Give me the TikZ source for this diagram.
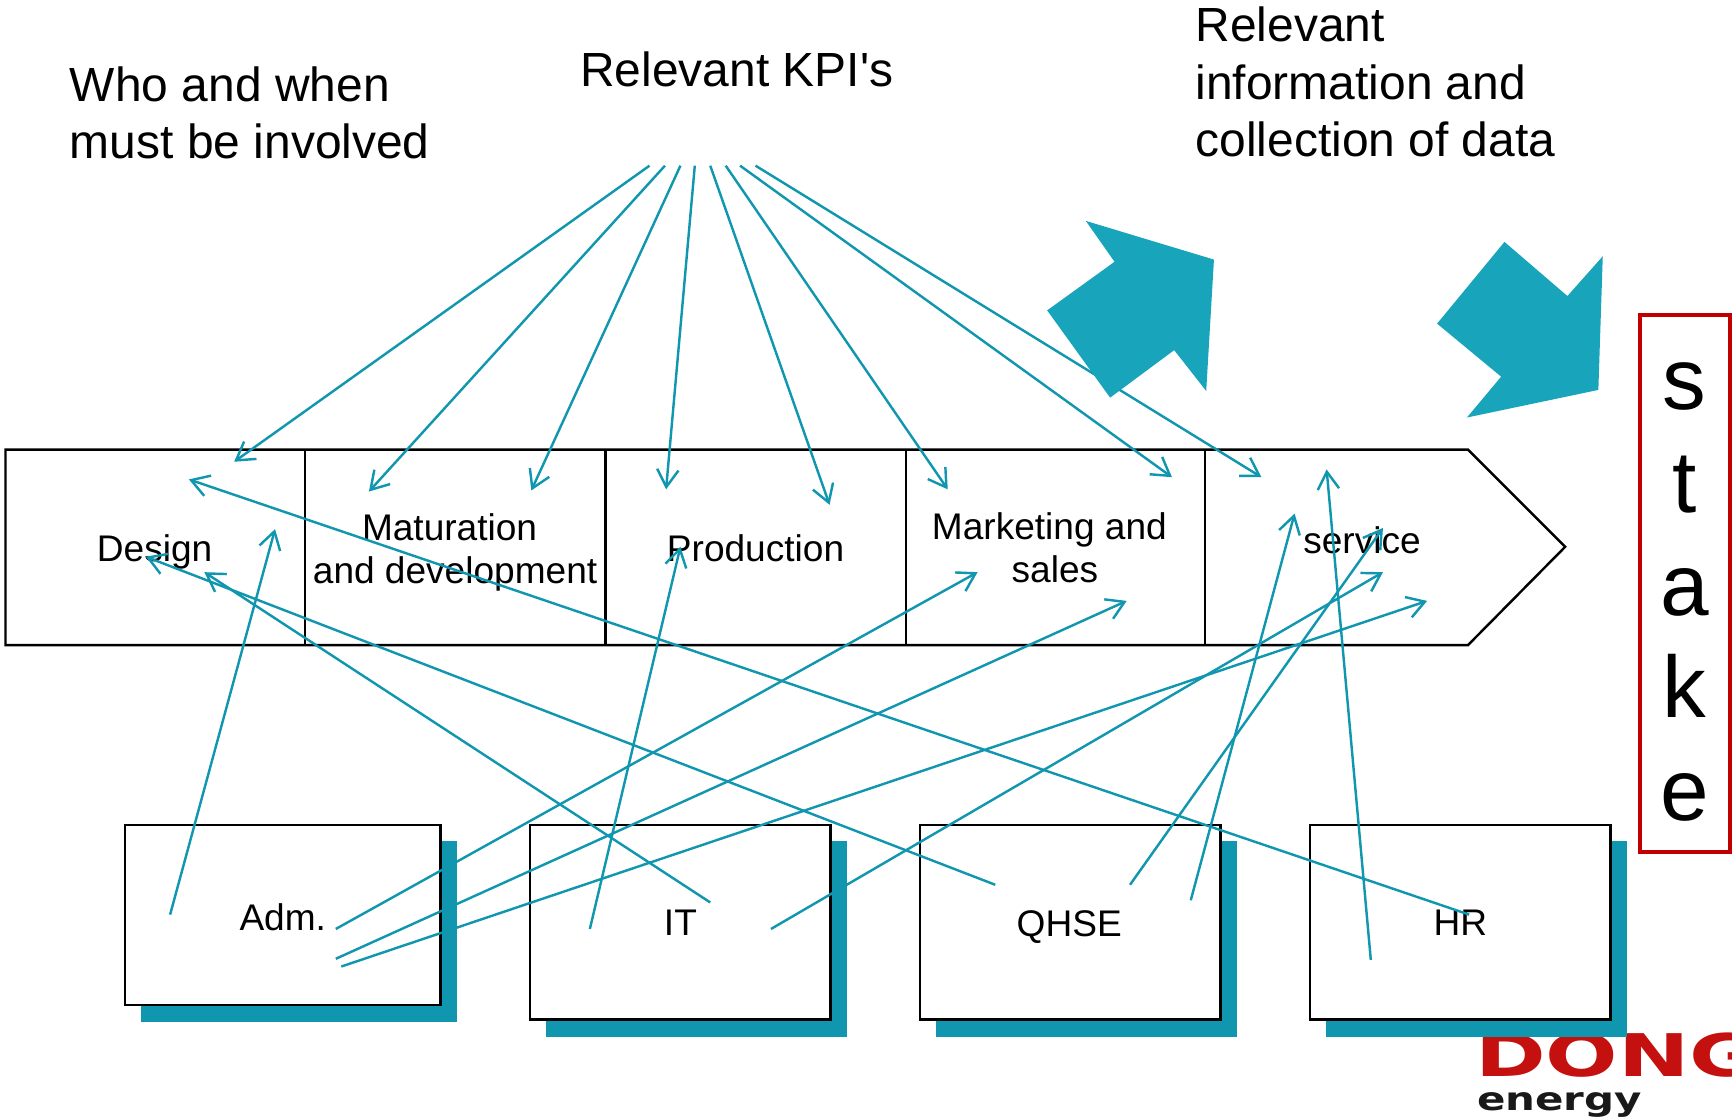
\documentclass[tikz,border=0pt]{standalone}
\usepackage{fontspec}
\setmainfont{Liberation Sans}
\newfontfamily\logofont{DejaVu Sans}
\usetikzlibrary{arrows.meta}
\definecolor{linkteal}{HTML}{1096AE}
\definecolor{bigteal}{HTML}{18A5BC}
\definecolor{boxred}{HTML}{C00000}
\definecolor{logored}{HTML}{C4100F}
\tikzset{
  link/.style={draw=linkteal,line width=1.25pt,-{Straight Barb[length=9pt,width=11pt,line width=1.25pt]}},
  bigarrow/.style={fill=bigteal,draw=none},
  bigtext/.style={font=\fontsize{24.7}{29.6}\selectfont,align=left,inner sep=0pt},
  label/.style={font=\fontsize{19.1}{22.5}\selectfont,align=center,inner sep=0pt},
  unitbox/.style={draw=black,line width=1.25pt,fill=white,outer sep=0pt},
  shadowbox/.style={fill=linkteal,draw=none},
  divider/.style={draw=black,line width=1.25pt}
}
\begin{document}
\begin{tikzpicture}[x=0.02cm,y=-0.02cm]
\useasboundingbox (0,0) rectangle (1568,1013);
% logo
\node[anchor=base west,inner sep=0pt,text=logored] (dong) at (1335,975)
  {\logofont\bfseries\scalebox{1.45}[1]{\fontsize{30.3}{30.3}\selectfont DONG}};
\node[anchor=base west,inner sep=0pt,text=black!90] (energy) at (1337,1005)
  {\logofont\bfseries\scalebox{1.31}[1]{\fontsize{16.5}{16.5}\selectfont energy}};
% chevron
\draw[unitbox] (5,407) -- (1329,407) -- (1417,495) -- (1329,584) -- (5,584) -- cycle;
\foreach \dx in {276,548,820,1091} \draw[divider] (\dx,407) -- (\dx,584);
% boxes
\fill[shadowbox] (128,761) rectangle (414,925);
\fill[shadowbox] (494,761) rectangle (767,939);
\fill[shadowbox] (847,761) rectangle (1120,939);
\fill[shadowbox] (1200,761) rectangle (1473,939);
\node[unitbox,minimum width=5.72cm,minimum height=3.26cm,anchor=north west,inner sep=0pt] (adm) at (113,747) {};
\node[unitbox,minimum width=5.44cm,minimum height=3.52cm,anchor=north west,inner sep=0pt] (it) at (480,747) {};
\node[unitbox,minimum width=5.44cm,minimum height=3.52cm,anchor=north west,inner sep=0pt] (qhse) at (833,747) {};
\node[unitbox,minimum width=5.44cm,minimum height=3.52cm,anchor=north west,inner sep=0pt] (hr) at (1186,747) {};
% labels
\node[label] (design) at (140,500) {Design};
\node[label] (matur) at (412,500) {\mbox{Maturation\kern5.7pt}\\and development};
\node[label] (prod) at (684,496) {Production};
\node[label] (market) at (950,496) {Marketing and\\\hspace{5.7pt}sales};
\node[label] (serv) at (1233,489) {service};
\node[label] (admt) at (256,830) {Adm.};
\node[label] (itt) at (616,835) {IT};
\node[label] (qhset) at (968,839) {QHSE};
\node[label] (hrt) at (1322,835) {HR};
% headings
\node[bigtext,anchor=west] (who) at (63,102) {Who and when\\must be involved};
\node[bigtext,anchor=west] (kpi) at (525,63) {Relevant KPI\textquotesingle s};
\node[bigtext,anchor=west] (info) at (1082,74.5) {Relevant\\information and\\collection of data};
% endpoints
\coordinate (k1) at (588,150); \coordinate (d1) at (212,418);
\coordinate (k2) at (602,150); \coordinate (d2) at (334,445);
\coordinate (k3) at (616,150); \coordinate (d3) at (481,444);
\coordinate (k4) at (629,150); \coordinate (d4) at (603,443);
\coordinate (k5) at (643,150); \coordinate (d5) at (751,457);
\coordinate (k6) at (657,150); \coordinate (d6) at (858,443);
\coordinate (k7) at (670,150); \coordinate (d7) at (1061,432);
\coordinate (k8) at (684,150); \coordinate (d8) at (1142,432);
\coordinate (a1) at (154,828); \coordinate (e1) at (249,479);
\coordinate (a2) at (304,841); \coordinate (e2) at (885,518);
\coordinate (a3) at (304,868); \coordinate (e3) at (1020,544);
\coordinate (a4) at (309,875); \coordinate (e4) at (1292,544);
\coordinate (i1) at (643,817); \coordinate (f1) at (185,518);
\coordinate (i2) at (534,841); \coordinate (f2) at (616,495);
\coordinate (i3) at (698,841); \coordinate (f3) at (1252,518);
\coordinate (q1) at (901,801); \coordinate (g1) at (132,504);
\coordinate (q2) at (1023,801); \coordinate (g2) at (1252,478);
\coordinate (q3) at (1078,815); \coordinate (g3) at (1172,465);
\coordinate (h1) at (1330,828); \coordinate (j1) at (171,434);
\coordinate (h2) at (1241,869); \coordinate (j2) at (1201,425);
% connectors
\foreach \s/\t in {k1/d1,k2/d2,k3/d3,k4/d4,k5/d5,k6/d6,k7/d7,k8/d8,a1/e1,a2/e2,a3/e3,a4/e4,i1/f1,i2/f2,i3/f3,q1/g1,q2/g2,q3/g3,h1/j1,h2/j2}
  \draw[link] (\s) -- (\t);
% big arrows
\fill[bigarrow] (983,200) -- (1099,235) -- (1092,354) -- (1063,317) -- (1005,360) -- (948,281) -- (1009,237) -- cycle;
\fill[bigarrow] (1362,219) -- (1419,268) -- (1451,232) -- (1447,353) -- (1328,378) -- (1359,341) -- (1301,293) -- cycle;
% stake
\draw[draw=boxred,line width=2.1pt] (1485,285) rectangle (1566.5,771);
\node[font=\fontsize{45}{53}\selectfont,align=center,inner sep=0pt] (stake) at (1525,536) {s\\t\\a\\k\\e};
\end{tikzpicture}
\end{document}
